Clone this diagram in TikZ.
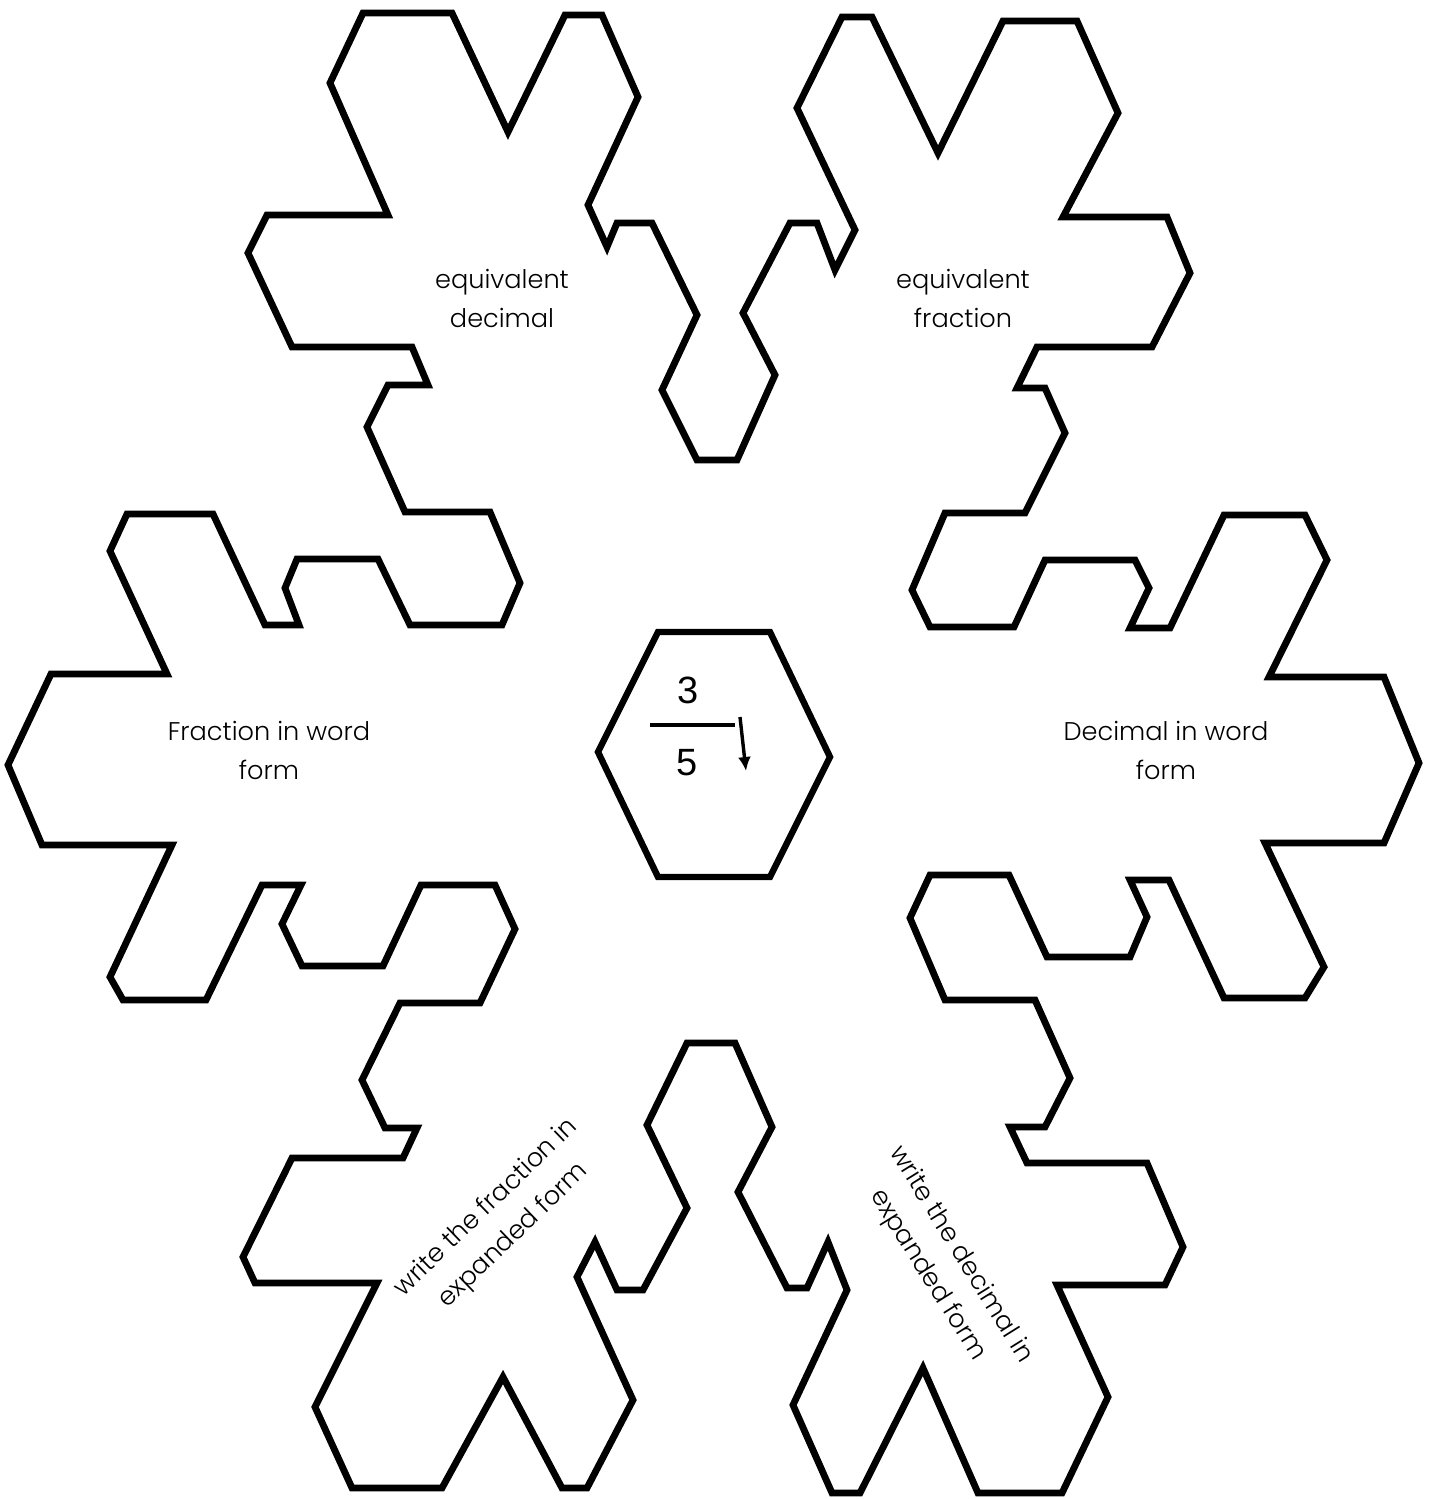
\documentclass[tikz,border=0pt]{standalone}
\usepackage{fontspec}
\setmainfont{Poppins Light}
\newfontfamily\digitfont{Liberation Sans}
\usepackage{tikz}
\usetikzlibrary{arrows.meta}

\begin{document}
\begin{tikzpicture}[x=0.5pt,y=-0.5pt,
    lbl/.style={font=\fontsize{12.8}{19.5}\selectfont,align=center,inner sep=0pt},
    digit/.style={font=\digitfont\fontsize{19}{19}\selectfont,inner sep=0pt},
    flake/.style={line width=3.4pt,line join=miter}]
  \useasboundingbox (0,0) rectangle (1432,1499);
  % snowflake outline
  \draw[flake] (363,13) -- (452,13) -- (508,132) -- (565,15) -- (602,15) -- (638,97)
    -- (588,205) -- (607,247) -- (617,223) -- (652,223) -- (697,315) -- (662,390)
    -- (697,460) -- (737,460) -- (775,375) -- (743,313) -- (790,223) -- (817,223)
    -- (835,270) -- (855,230) -- (797,108) -- (842,17) -- (872,17) -- (938,153)
    -- (1003,21) -- (1077,21) -- (1118,113) -- (1063,217) -- (1167,217) -- (1190,273)
    -- (1152,347) -- (1037,347) -- (1017,388) -- (1045,388) -- (1065,433) -- (1025,513)
    -- (945,513) -- (912,590) -- (930,627) -- (1014,627) -- (1045,560) -- (1135,560)
    -- (1149,588) -- (1130,628) -- (1170,628) -- (1224,515) -- (1305,515) -- (1327,560)
    -- (1269,677) -- (1384,677) -- (1419,763) -- (1384,843) -- (1265,843) -- (1324,967)
    -- (1305,998) -- (1224,998) -- (1169,880) -- (1130,880) -- (1147,917) -- (1130,957)
    -- (1047,957) -- (1009,875) -- (930,875) -- (910,918) -- (945,1000) -- (1035,1000)
    -- (1070,1078) -- (1045,1127) -- (1010,1127) -- (1027,1163) -- (1147,1163) -- (1183,1247)
    -- (1165,1285) -- (1057,1285) -- (1108,1397) -- (1062,1493) -- (978,1493) -- (923,1368)
    -- (860,1493) -- (832,1493) -- (793,1405) -- (847,1290) -- (828,1242) -- (807,1288)
    -- (787,1288) -- (738,1192) -- (772,1127) -- (735,1043) -- (687,1043) -- (647,1125)
    -- (687,1208) -- (643,1290) -- (617,1290) -- (595,1242) -- (577,1277) -- (633,1400)
    -- (587,1488) -- (562,1488) -- (503,1377) -- (442,1488) -- (352,1488) -- (315,1407)
    -- (377,1283) -- (255,1283) -- (243,1257) -- (292,1158) -- (403,1158) -- (417,1128)
    -- (385,1128) -- (362,1080) -- (400,1003) -- (480,1003) -- (515,929) -- (495,885)
    -- (421,885) -- (383,966) -- (302,966) -- (282,924) -- (301,885) -- (262,885)
    -- (206,1000) -- (123,1000) -- (110,977) -- (172,845) -- (42,845) -- (8,765)
    -- (51,674) -- (167,674) -- (110,551) -- (127,514) -- (213,514) -- (265,625)
    -- (299,625) -- (285,588) -- (297,559) -- (378,559) -- (410,625) -- (502,625)
    -- (520,583) -- (490,512) -- (405,512) -- (367,427) -- (388,385) -- (428,385)
    -- (412,347) -- (292,347) -- (248,253) -- (267,215) -- (388,215) -- (330,83) -- cycle;
  % centre hexagon
  \draw[line width=3.2pt,line join=miter] (658,632) -- (770,632) -- (830,757) -- (770,877)
    -- (658,877) -- (598,752) -- cycle;
  % arm labels
  \node[lbl] (eqdec) at (502,298) {equivalent\\decimal};
  \node[lbl] (eqfrac) at (963,298) {equivalent\\fraction};
  \node[lbl] (fracword) at (269,750) {Fraction in word\\form};
  \node[lbl] (decword) at (1166,750) {Decimal in word\\form};
  \node[lbl,rotate=44] (fracexp) at (500,1222) {write the fraction in\\expanded form};
  \node[lbl,rotate=-58] (decexp) at (944,1265) {write the decimal in\\expanded form};
  % fraction in the middle
  \node[digit] (num) at (688,690) {3};
  \node[digit] (den) at (687,763) {5};
  \coordinate (barL) at (650,725);
  \coordinate (barR) at (735,725);
  \draw[line width=2pt] (barL) -- (barR);
  \coordinate (arrS) at (740,717);
  \coordinate (arrE) at (746,771);
  \draw[line width=1.7pt,-{Latex[length=7pt,width=6.5pt]}] (arrS) -- (arrE);
\end{tikzpicture}
\end{document}
